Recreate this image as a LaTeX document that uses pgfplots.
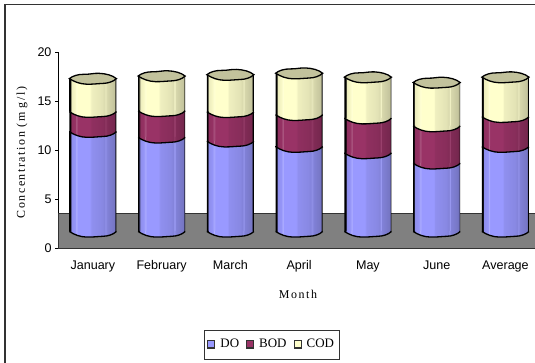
\documentclass[border=0pt]{standalone}
\usepackage{pgfplots}
\usepackage{pgfplotstable}
\usepackage{fontspec}
\pgfplotsset{compat=1.18}
\setmainfont{Liberation Serif}
\newfontfamily\arialfont{Liberation Sans}
\newfontfamily\spacedfont[LetterSpace=13]{Liberation Serif}

\definecolor{doC}{HTML}{9999FF}
\definecolor{bodC}{HTML}{993366}
\definecolor{codC}{HTML}{FFFFCC}
\definecolor{capC}{HTML}{C2C29C}
\definecolor{floorC}{HTML}{808080}
\definecolor{frameC}{HTML}{333333}

% Facets of light across one cylinder: fraction of its width, tint.
% The black stops at both ends are the outline of its sides.
\newcommand\facets[1]{%
  \addstop{black}{0.00}{}%
  \addstop{black}{0.028}{}%
  \addstop{#1}{0.029}{!92!black}%
  \addstop{#1}{0.13}{!98!black}%
  \addstop{#1}{0.15}{!74!white}%
  \addstop{#1}{0.17}{!100!black}%
  \addstop{#1}{0.44}{!100!black}%
  \addstop{#1}{0.46}{!94!black}%
  \addstop{#1}{0.70}{!89!black}%
  \addstop{#1}{0.76}{!85!black}%
  \addstop{#1}{0.775}{!88!white}%
  \addstop{#1}{0.79}{!85!black}%
  \addstop{#1}{0.971}{!76!black}%
  \addstop{black}{0.972}{}%
  \addstop{black}{1.00}{}}
% The box of a shaded path spans 25bp to 75bp of the shading.
\newcommand\addstop[3]{%
  \pgfmathsetmacro\stoppos{25+\cellstart*\cellstep+#2*\cellwidth}%
  \xdef\stoplist{\stoplist color(\stoppos bp)=(#1#3);}}
\newcommand\declareshade[3]{% name, colour, number of cylinders in the path
  \ifnum#3=1 \gdef\cellstep{0}\gdef\cellwidth{50}\else
    \gdef\cellstep{7.4810}\gdef\cellwidth{5.1143}\fi
  \xdef\stoplist{color(0bp)=(black);}%
  \foreach \cellstart in {1,...,#3}{%
    \pgfmathsetmacro\cellstart{\cellstart-1}%
    \facets{#2}}%
  \xdef\stoplist{\stoplist color(100bp)=(black)}%
  \edef\declarenow{\noexpand\pgfdeclarehorizontalshading{#1}{100bp}{\stoplist}}%
  \declarenow}
% a whole row of seven bars is one path; a rim is one cylinder wide
\declareshade{doRow}{doC}{7}
\declareshade{bodRow}{bodC}{7}
\declareshade{codRow}{codC}{7}
\declareshade{doShade}{doC}{1}
\declareshade{bodShade}{bodC}{1}
\declareshade{codShade}{codC}{1}
% flat tints for the legend keys
\pgfdeclarehorizontalshading{doKey}{100bp}{color(0bp)=(doC); color(100bp)=(doC)}
\pgfdeclarehorizontalshading{bodKey}{100bp}{color(0bp)=(bodC); color(100bp)=(bodC)}
\pgfdeclarehorizontalshading{codKey}{100bp}{color(0bp)=(codC); color(100bp)=(codC)}

% front rim of a cylinder segment, hanging below the level of the segment
\newcommand\rimpath{(-23.5bp,0bp) .. controls (-18.5bp,-3.2bp) and (-13bp,-5.4bp) .. (-6bp,-5.6bp)
  .. controls (0bp,-5.7bp) and (5bp,-5bp) .. (10bp,-4.8bp)
  .. controls (15bp,-4.7bp) and (20.5bp,-3bp) .. (23.5bp,0bp)}
\newcommand\rimmark[2]{%
  \pgfdeclareplotmark{#1}{%
    \shade[shading=#2,draw=none] \rimpath -- (23.5bp,0.5bp) -- (-23.5bp,0.5bp) -- cycle;
    \draw[black,line width=1.3bp] \rimpath;}}
\rimmark{rimDO}{doShade}
\rimmark{rimBOD}{bodShade}
\rimmark{rimCOD}{codShade}
% closed lid on the top of a cylinder
\pgfdeclareplotmark{lid}{%
  \draw[black,line width=1.3bp,fill=capC] \rimpath
    .. controls (19.5bp,3.4bp) and (13bp,5bp) .. (6bp,5.3bp)
    .. controls (1bp,5.5bp) and (-3bp,4.2bp) .. (-9bp,4.3bp)
    .. controls (-15bp,4.4bp) and (-20.5bp,2.6bp) .. (-23.5bp,0bp) -- cycle;}

% monthly concentrations, mg/l
\pgfplotstableread{
x    base DO    BOD   COD
0.5  0    10.18 2.04  3.38
1.5  0    9.60  2.70  3.56
2.5  0    9.20  3.00  3.80
3.5  0    8.65  3.25  4.25
4.5  0    8.00  3.55  4.20
5.5  0    6.95  3.80  4.45
6.5  0    8.65  3.05  4.05
}\concentration

\pgfplotsset{
  chartbox/.style={
    scale only axis, width=476.5bp, height=196bp,
    at={(58.5bp,115bp)}, anchor=south west,
    xmin=0, xmax=6.93, ymin=0, ymax=20, clip=false,
  },
  depth/.style={yshift=16.5bp},
  swatch/.style={legend image code/.code={%
    \draw[yshift=-16.5bp,shading=#1,frameC,line width=1.1bp] (0bp,-3.6bp) rectangle (7bp,3.6bp);}},
}

\begin{document}
\begin{tikzpicture}
\useasboundingbox (0,0) rectangle (535bp,363bp);
\draw[frameC,line width=1.4bp] (5bp,0) -- (5bp,358.5bp) -- (535bp,358.5bp);

\begin{axis}[chartbox,
  ybar stacked, reverse stacked plots=false, bar width=47bp,
  axis x line*=bottom, axis y line*=left,
  axis line style={black,line width=0.7bp},
  tick style={black,line width=0.7bp},
  ytick={0,5,10,15,20}, tick align=outside,
  xtick={0.5,...,6.5},
  xticklabels={January,February,March,April,May,June,Average},
  major x tick style={draw=none},
  extra x ticks={0,1,2,3,4,5,6},
  extra x tick labels={},
  extra x tick style={major tick length=3.5bp,tick style={black,line width=0.7bp}},
  major tick length=3.5bp,
  tick label style={font=\arialfont\fontsize{12.6}{14}\selectfont},
  /pgf/number format/assume math mode=true,
  xticklabel style={yshift=-5.5bp},
  xlabel={Month},
  xlabel style={at={(axis description cs:0.5026,-0.2347)},anchor=center,
    font=\spacedfont\fontsize{12}{14}\selectfont},
  ylabel={Concentration (m g/l)},
  ylabel style={at={(axis description cs:-0.0767,0.487)},anchor=center,
    font=\spacedfont\fontsize{12}{14}\selectfont},
  legend columns=-1,
  legend style={at={(axis description cs:0.4474,-0.492)},anchor=center,
    draw=frameC,line width=0.8bp,
    font=\fontsize{13}{15}\selectfont,
    inner xsep=3bp,inner ysep=7.5bp,
    /tikz/every even column/.append style={column sep=5bp},
    /tikz/every odd column/.append style={column sep=3bp}},
]
% the floor of the plot, seen from above
\addplot[forget plot,ybar interval=1,stack plots=false,draw=frameC,fill=floorC,line width=0.7bp]
  coordinates {(0,3.5) (6.93,3.5)};
\addplot[depth,shade,shading=doRow,draw=none,swatch=doKey]
  table[x=x,y=DO] {\concentration};
\addplot[depth,shade,shading=bodRow,draw=none,swatch=bodKey]
  table[x=x,y=BOD] {\concentration};
\addplot[depth,shade,shading=codRow,draw=none,swatch=codKey]
  table[x=x,y=COD] {\concentration};
\legend{DO,BOD,COD}
\end{axis}

% rims and lids stacked on the same values
\begin{axis}[chartbox,hide axis,stack plots=y]
\addplot[depth,only marks,mark=rimDO] table[x=x,y=base] {\concentration};
\addplot[depth,only marks,mark=rimBOD] table[x=x,y=DO] {\concentration};
\addplot[depth,only marks,mark=rimCOD] table[x=x,y=BOD] {\concentration};
\addplot[depth,only marks,mark=lid] table[x=x,y=COD] {\concentration};
\end{axis}
\end{tikzpicture}
\end{document}
